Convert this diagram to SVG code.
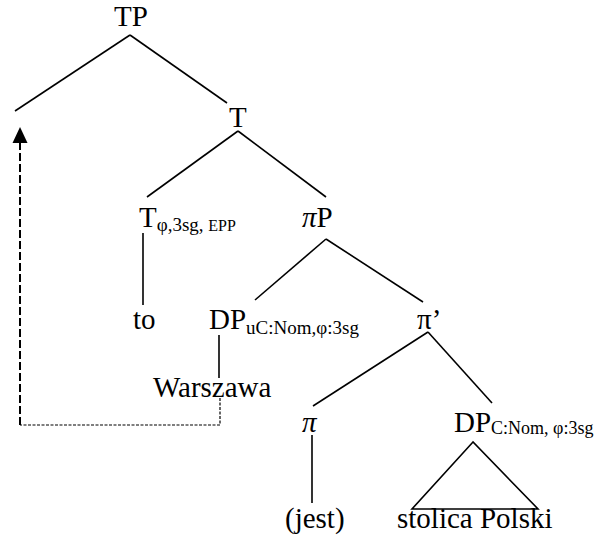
<svg xmlns="http://www.w3.org/2000/svg" width="598" height="540" viewBox="0 0 598 540">
<style>
text{font-family:"Liberation Serif","Times New Roman",serif;fill:#000}
.n{font-size:29px}
.s{font-size:19px}
.s2{font-size:18px}
.e{font-size:16px}
.i{font-style:italic}
.l{stroke:#000;stroke-width:1.6;fill:none}
.d1{stroke:#000;stroke-width:2;fill:none;stroke-dasharray:8 3}
.d2{stroke:#000;stroke-width:1.2;fill:none;stroke-dasharray:3 1.5}
</style>
<rect width="598" height="540" fill="#fff"/>
<g id="connectors">
<line class="l" x1="130" y1="35" x2="15" y2="111"/>
<line class="l" x1="130" y1="35" x2="227" y2="103"/>
<line class="l" x1="238" y1="131" x2="147" y2="197"/>
<line class="l" x1="238" y1="131" x2="326" y2="197"/>
<line class="l" x1="143" y1="233" x2="143" y2="305"/>
<line class="l" x1="326" y1="239" x2="255" y2="300"/>
<line class="l" x1="326" y1="239" x2="423" y2="302"/>
<line class="l" x1="219" y1="335" x2="219" y2="378"/>
<line class="l" x1="428" y1="332" x2="313" y2="406"/>
<line class="l" x1="428" y1="332" x2="492" y2="403"/>
<line class="l" x1="312" y1="435" x2="312" y2="503"/>
<polygon class="l" points="473,442 412,509 538,509"/>
<polyline class="d2" points="220,398 220,425 20,425"/>
<line class="d1" x1="20" y1="425" x2="20" y2="141"/>
<polygon points="20,127 12.5,143 27.5,143" fill="#000"/>
</g>
<g id="TP"><text class="n" x="114" y="26">TP</text></g>
<g id="T"><text class="n" x="229" y="127">T</text></g>
<g id="Tphi"><text class="n" x="139" y="227">T<tspan class="s" dy="4">φ,3sg, </tspan><tspan class="e">EPP</tspan></text></g>
<g id="piP"><text class="n" x="302" y="227"><tspan class="i">π</tspan>P</text></g>
<g id="to"><text class="n" x="133" y="329">to</text></g>
<g id="DP1"><text class="n" x="209" y="329">DP<tspan class="s" dy="5">uC:Nom,φ:3sg</tspan></text></g>
<g id="pibar"><text class="n" x="417" y="329">π’</text></g>
<g id="Warszawa"><text class="n" x="153" y="397">Warszawa</text></g>
<g id="pi"><text class="n i" x="302" y="432">π</text></g>
<g id="DP2"><text class="n" x="454" y="432">DP<tspan class="s2" dy="2">C:Nom, φ:3sg</tspan></text></g>
<g id="jest"><text class="n" x="285" y="528">(jest)</text></g>
<g id="stolica"><text class="n" x="397" y="528">stolica Polski</text></g>
</svg>
